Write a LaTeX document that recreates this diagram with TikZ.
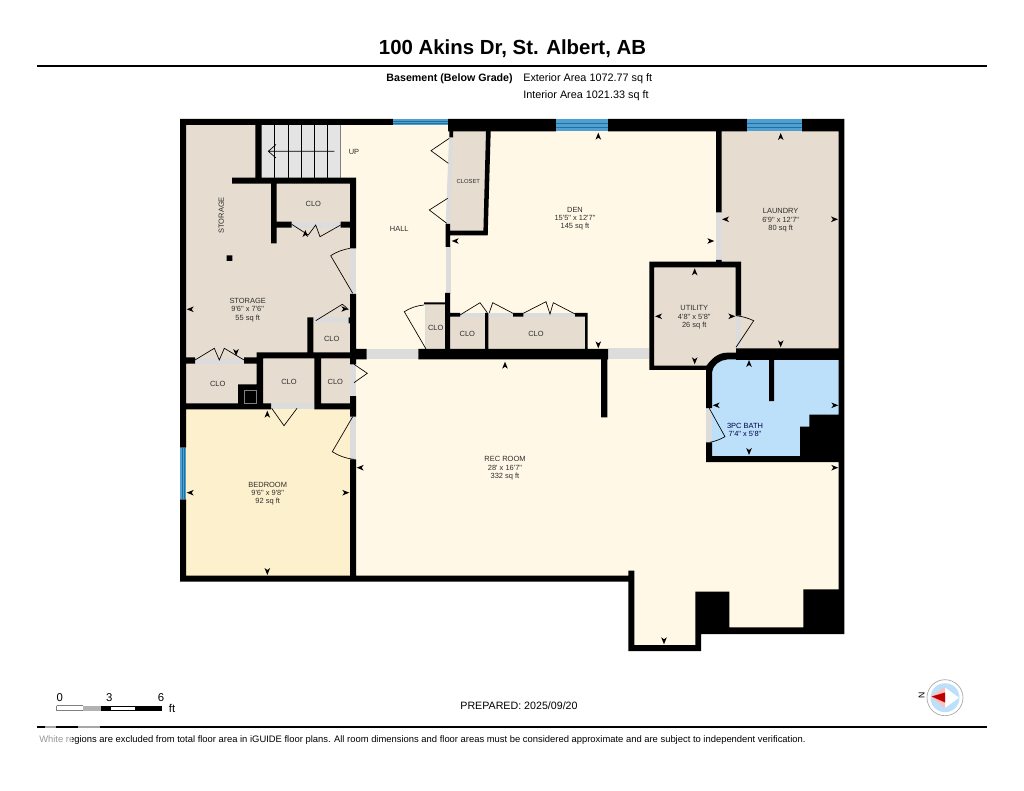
\documentclass[tikz,border=0pt]{standalone}
\usepackage{fontspec}
\newfontfamily\lsans{Liberation Sans}
\definecolor{cream}{HTML}{FFF8E6}
\definecolor{beige}{HTML}{E6DCCF}
\definecolor{bedcol}{HTML}{FDF0CC}
\definecolor{bathcol}{HTML}{BCE0FA}
\definecolor{doorgrey}{HTML}{DCDCDC}
\definecolor{stairgrey}{HTML}{E4E4E4}
\definecolor{wincol}{HTML}{4F9FD2}
\definecolor{windark}{HTML}{1F6F9F}
\definecolor{labelcol}{HTML}{2E2E2E}
\tikzset{
  wall/.style={fill=black},
  doorpanel/.style={fill=doorgrey},
  swing/.style={draw=black,line width=0.5pt,line join=miter},
  winline/.style={draw=windark,line width=0.4pt},
  roomlabel/.style={font=\lsans\fontsize{5.6}{6.3}\selectfont,text=labelcol,align=center,inner sep=0pt,yshift=-0.7pt},
  headlabel/.style={font=\lsans\fontsize{8.13}{9}\selectfont,text=black,inner sep=0pt,anchor=west,yshift=-0.7pt},
  rule/.style={line width=1.5pt,draw=black}
}
\newcommand{\hd}[3]{\fill[black,shift={(#1,#2)},rotate=#3] (0,0) -- (-7,2.8) -- (-5,0) -- (-7,-2.8) -- cycle;}
\begin{document}
\begin{tikzpicture}[x=0.75pt,y=-0.75pt]
\useasboundingbox (0,0) rectangle (1024,791);
\fill[white] (0,0) rectangle (1024,791);

% floor base
\fill[cream] (180,119) -- (844,119) -- (844,634) -- (701,634) -- (701,651) -- (628,651) -- (628,581.5) -- (180,581.5) -- cycle;
% rooms
\fill[beige] (185,125) rectangle (256,178);
\fill[beige] (185,178) rectangle (351,358);
\fill[beige] (185,358) rectangle (351,404);
\fill[bedcol] (185,409) rectangle (351,576);
\fill[beige] (450,131) -- (487,131) -- (484,232) -- (447,232) -- cycle;
\fill[beige] (425,303) rectangle (446,350);
\fill[beige] (449,316) rectangle (586,350);
\fill[beige] (720,131) rectangle (839,350);
\fill[beige] (653,266) rectangle (737,367);
\fill[bathcol] (712,372) .. controls (712,366) and (718,359) .. (727,359) -- (839,359) -- (839,457) -- (712,457) -- cycle;
% stairs
\fill[stairgrey] (261,125) rectangle (340.7,178);
\foreach \sx in {274.3,288.3,301,314.3,327.3}{\draw[black,line width=0.5pt] (\sx,125) -- (\sx,178);}
\draw[gray,line width=0.5pt] (340.7,125) -- (340.7,178);
\coordinate (stairtail) at (334.3,151.3);
\coordinate (stairhead) at (268.3,151.3);
\draw[black,line width=0.5pt] (stairtail) -- (stairhead) (276,144.5) -- (268.3,151.3) -- (276,158);

% door panels
\fill[doorpanel] (449,137) -- (453,137) -- (450,224) -- (445.7,224) -- cycle;
\fill[doorpanel] (445.7,245) rectangle (450.5,294);
\fill[doorpanel] (350,248) rectangle (356,294);
\fill[doorpanel] (314,317.3) rectangle (348.5,323.5);
\fill[doorpanel] (291.7,222) rectangle (340.7,227.7);
\fill[doorpanel] (195,358) rectangle (244,364);
\fill[doorpanel] (271,403.3) rectangle (314.3,409.3);
\fill[doorpanel] (350,364) rectangle (356,396);
\fill[doorpanel] (350,416) rectangle (356,460);
\fill[doorpanel] (366.7,349) rectangle (418.3,359.3);
\fill[doorpanel] (608,348.3) rectangle (649.3,359.3);
\fill[doorpanel] (716,212) rectangle (721.7,260);
\fill[doorpanel] (736,315.7) rectangle (741,348.3);
\fill[doorpanel] (706,408) rectangle (712,442.5);
\fill[doorpanel] (460,313) rectangle (513,316.7);
\fill[doorpanel] (523,313) rectangle (575,316.7);
\fill[doorpanel] (424.5,304) rectangle (426,349);

% walls
\fill[wall]
 (180,119) rectangle (393,125)
 (448,119) rectangle (556,131.5)
 (608,119) rectangle (747,131.5)
 (802,119) rectangle (844.3,131.5)
 (180,119) rectangle (186,447.7)
 (180,499.3) rectangle (186,581.7)
 (180,575.7) rectangle (634.3,581.7)
 (628.3,570.7) rectangle (634.3,651)
 (628.3,645) rectangle (701,651)
 (695.3,591.7) rectangle (701,651)
 (695.3,591.7) rectangle (729.3,634)
 (695.3,627.3) rectangle (844.3,634)
 (803.3,589.3) rectangle (844.3,634)
 (838.5,119) rectangle (844.3,634)
 % bath
 (706,366) rectangle (712,408)
 (706,442.3) rectangle (712,462)
 (706,456) rectangle (844.3,462)
 (800,426.7) rectangle (844.3,462)
 (809.3,414.7) rectangle (844.3,462)
 (736,348.3) rectangle (844.3,360)
 (769,359) rectangle (774,401)
 % utility
 (649.3,261.7) rectangle (654,370)
 (649.3,261.7) rectangle (741,267.3)
 (735.7,261.7) rectangle (741,315.7)
 (649.3,365.7) rectangle (708,370)
 % den/laundry
 (716,131) rectangle (721.7,212.3)
 (716,260) rectangle (721.7,262)
 % rec top
 (350,349) rectangle (366.7,359.3)
 (418.3,349) rectangle (608,359.3)
 (601,349) rectangle (607.3,417.3)
 % closet
 (449.3,131) rectangle (453,137.3)
 (445.7,230.7) rectangle (487.7,235.3)
 (445.7,224) rectangle (450,247)
 (445,293) rectangle (450,350)
 (424,302.5) rectangle (445,304.5)
 % den closets
 (450,313) rectangle (460,316.7)
 (485,313) rectangle (488.3,350)
 (513,313) rectangle (523.3,316.7)
 (575,313) rectangle (587.7,316.7)
 (585,313) rectangle (587.7,350)
 % stairs & hall west
 (255.3,125) rectangle (261.7,183.7)
 (232,177.7) rectangle (356,183.7)
 (350,177.7) rectangle (356,248.3)
 (350,294) rectangle (356,364.3)
 (271,183.7) rectangle (276.7,243.3)
 (271,221.7) rectangle (291.7,227.7)
 (340.7,221.7) rectangle (350,227.7)
 (307.3,317.3) rectangle (313.3,358)
 (348.5,317.3) rectangle (350,323.5)
 % middle
 (180,357.3) rectangle (195,363.7)
 (244,357.3) rectangle (256.7,363.7)
 (256.7,352.5) rectangle (356,358.3)
 (256.7,352.5) rectangle (263,409.3)
 (238,384.3) rectangle (263,409.3)
 (180,403.3) rectangle (271,409.3)
 (314.3,403.3) rectangle (356,409.3)
 (314.3,352.5) rectangle (321,409.3)
 (350,396) rectangle (356,416.7)
 (350,459.3) rectangle (356,581.7)
 (226.7,255.3) rectangle (232.3,261);
% slanted closet wall
\fill[wall] (486,131) -- (490.7,131) -- (487.7,235) -- (483.3,235) -- cycle;
% curved wall corner
\fill[wall] (706,371) -- (706,366.5) .. controls (711,359) and (718,352.7) .. (727,352.7) -- (737,352.7) -- (737,359.5) -- (727,359.5) .. controls (720,360) and (713,365) .. (712,372) -- cycle;
% chimney box
\draw[gray,line width=0.4pt] (244,390) rectangle (256.5,403);
% windows
\fill[wincol] (393,119) rectangle (448,125);
\fill[wincol] (556,119) rectangle (608,131.5);
\fill[wincol] (747,119) rectangle (802,131.5);
\fill[wincol] (180,447.7) rectangle (186,499.3);
\draw[winline] (393,121) -- (448,121) (393,123) -- (448,123);
\draw[winline] (556,123) -- (608,123) (556,127) -- (608,127);
\draw[winline] (747,123) -- (802,123) (747,127) -- (802,127);
\draw[winline] (182,447.7) -- (182,499.3) (184,447.7) -- (184,499.3);

% door swings
\draw[swing] (449.3,138.3) -- (431,150.7) -- (448.3,163.3);
\draw[swing] (447.7,198.3) -- (429.3,210) -- (446.7,223.3);
\draw[swing] (352.7,293.3) -- (330.7,255.7) .. controls (336,252) and (343,249.5) .. (350,248.3);
\draw[swing] (426,349) -- (404.3,311.7) .. controls (410,308) and (417,305.5) .. (424,305);
\draw[swing] (315.7,320.7) -- (342.3,304.3) .. controls (345,306) and (347,308) .. (348.3,310);
\draw[swing] (291.7,224.3) -- (308.3,235) -- (315.7,225) -- (320,236.7) -- (340.7,225);
\draw[swing] (195,360) -- (214.3,348.3) -- (219.3,360) -- (224.3,348.3) -- (244,360);
\draw[swing] (354,364.3) -- (367.3,373.3) -- (354,382.7);
\draw[swing] (271.7,408.3) -- (284,425.7) -- (297,408.3);
\draw[swing] (352.7,416.7) -- (332.3,451.7) .. controls (338,455.5) and (346,458.5) .. (354,459.3);
\draw[swing] (460,315) -- (480,302.7) -- (487.3,312.7);
\draw[swing] (489.3,312.7) -- (492.7,302.7) -- (513,313.3);
\draw[swing] (523.3,313.3) -- (546,301.7) -- (550,314) -- (553.3,302.7) -- (575,314);
\draw[swing] (736,347.3) -- (753.7,320.7) .. controls (748,318) and (742,316.3) .. (736,315.7);
\draw[swing] (709.3,408.3) -- (725,436.7) .. controls (720,439.5) and (715,441.3) .. (710,442.3);

% dimension heads
\hd{186.7}{309.3}{180}\hd{305.3}{230}{90}\hd{348.3}{309}{0}\hd{236}{356}{270}
\hd{451.7}{241}{180}\hd{598.3}{132.7}{90}\hd{598.3}{348.3}{270}\hd{505}{361.7}{90}\hd{714.3}{241}{0}
\hd{722}{219.3}{180}\hd{838}{219.3}{0}\hd{780.7}{133}{90}\hd{780.7}{347.3}{270}
\hd{694.7}{268.3}{90}\hd{655}{316.3}{180}\hd{735.3}{316.3}{0}\hd{694.7}{364.3}{270}
\hd{749}{360}{90}\hd{712.7}{405.3}{180}\hd{838.3}{405.3}{0}\hd{749}{455}{270}
\hd{838.3}{467.7}{0}\hd{664}{644.3}{270}\hd{356.7}{467.7}{180}
\hd{186.7}{492.7}{180}\hd{349.3}{492.7}{0}\hd{267.3}{410.7}{90}\hd{267.3}{575}{270}

% room labels
\node[roomlabel,rotate=90,yshift=0.7pt] (storageA) at (222.3,214.3) {STORAGE};
\node[roomlabel] (storageB) at (247.7,309) {STORAGE\\9'6" x 7'6"\\55 sq ft};
\node[roomlabel] (cloA) at (313.3,202.7) {CLO};
\node[roomlabel] (hall) at (399.3,228.3) {HALL};
\node[roomlabel] (up) at (354,151.3) {UP};
\node[roomlabel] (cloB) at (331.7,338.3) {CLO};
\node[roomlabel] (cloC) at (435.7,326.7) {CLO};
\node[roomlabel,font=\lsans\fontsize{4.4}{5}\selectfont] (closet) at (468.3,180.7) {CLOSET};
\node[roomlabel] (cloD) at (467.3,332.7) {CLO};
\node[roomlabel] (cloE) at (536,332.7) {CLO};
\node[roomlabel] (den) at (575,217.7) {DEN\\15'5" x 12'7"\\145 sq ft};
\node[roomlabel] (laundry) at (780.7,219.3) {LAUNDRY\\6'9" x 12'7"\\80 sq ft};
\node[roomlabel] (utility) at (694.3,316.3) {UTILITY\\4'8" x 5'8"\\26 sq ft};
\node[roomlabel,text=black!70!blue] (bath) at (745,429) {3PC BATH\\7'4" x 5'8"};
\node[roomlabel] (rec) at (505,467.5) {REC ROOM\\28' x 16'7"\\332 sq ft};
\node[roomlabel] (bedroom) at (267.7,492.7) {BEDROOM\\9'6" x 9'8"\\92 sq ft};
\node[roomlabel] (cloF) at (217.7,383.3) {CLO};
\node[roomlabel] (cloG) at (289,380.7) {CLO};
\node[roomlabel] (cloH) at (335.3,380.7) {CLO};

% header
\node[inner sep=0pt,font=\lsans\bfseries\fontsize{15.3}{17}\selectfont] (title) at (512.5,49) {100 Akins Dr, St. Albert, AB};
\coordinate (ruleAl) at (37,66);\coordinate (ruleAr) at (987,66);
\draw[rule] (ruleAl) -- (ruleAr);
\node[headlabel,anchor=east,font=\lsans\bfseries\fontsize{8}{9}\selectfont] (basement) at (513,78) {Basement (Below Grade)};
\node[headlabel] (exterior) at (523,78) {Exterior Area 1072.77 sq ft};
\node[headlabel] (interior) at (523,95) {Interior Area 1021.33 sq ft};

% scale bar
\fill[white] (56.7,705.7) rectangle (83.3,710.7);
\draw[gray,line width=0.4pt] (56.7,705.7) -- (83.3,705.7) (56.7,710.7) -- (83.3,710.7) (56.7,705.7) -- (56.7,710.7);
\fill[black!30] (83.3,705.7) rectangle (100.7,710.7);
\fill[black] (100.7,705.7) rectangle (110,710.7);
\draw[black,line width=0.5pt,fill=white] (110,705.9) rectangle (135,710.5);
\fill[black] (135,705.7) rectangle (161.7,710.7);
\node[inner sep=0pt,font=\lsans\fontsize{8.5}{9}\selectfont] (s0) at (59.7,697.5) {0};
\node[inner sep=0pt,font=\lsans\fontsize{8.5}{9}\selectfont] (s3) at (109.3,697.5) {3};
\node[inner sep=0pt,font=\lsans\fontsize{8.5}{9}\selectfont] (s6) at (161,697.5) {6};
\node[inner sep=0pt,font=\lsans\fontsize{8.5}{9}\selectfont] (sft) at (172,708) {ft};

\node[inner sep=0pt,font=\lsans\fontsize{8}{9}\selectfont] (prepared) at (519,705.7) {PREPARED: 2025/09/20};

% compass
\draw[black!35,line width=0.5pt,fill=white] (945,697.7) circle (18);
\fill[bathcol] (945,697.7) circle (14.5);
\fill[white] (945,687.5) -- (959,697.7) -- (945,708) -- cycle;
\fill[red!25] (931,696.5) -- (945,687) -- (945,708) -- cycle;
\fill[red!75!black] (931.5,696.5) -- (945,692.5) -- (945,702.5) -- cycle;
\node[inner sep=0pt,rotate=90,font=\lsans\fontsize{6.5}{7}\selectfont] (north) at (921.7,695) {N};

% footer
\coordinate (ruleBl) at (37,727);\coordinate (ruleBr) at (987,727);
\draw[rule] (ruleBl) -- (ruleBr);
\node[inner sep=0pt,anchor=west,font=\lsans\fontsize{7.06}{8}\selectfont] (footer) at (39,740.5) {White regions are excluded from total floor area in iGUIDE floor plans. All room dimensions and floor areas must be considered approximate and are subject to independent verification.};
% faded patches
\fill[white,opacity=0.65] (45,725) rectangle (56,729);
\fill[white,opacity=0.65] (78,725) rectangle (100,729);
\fill[white,opacity=0.6] (39,735) rectangle (72,745);
\end{tikzpicture}
\end{document}
